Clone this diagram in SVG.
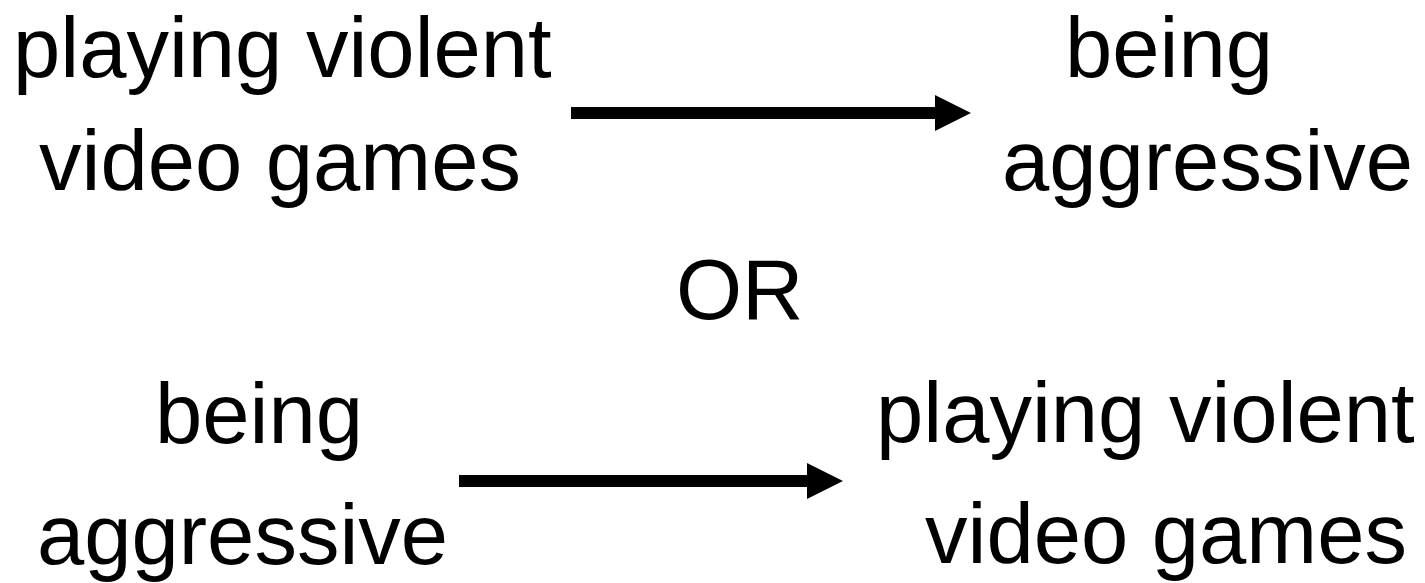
<svg xmlns="http://www.w3.org/2000/svg" width="1425" height="583" viewBox="0 0 1425 583">
  <style>
    .t { font-family: "Liberation Sans", Arial, sans-serif; font-size: 85px; fill: #000; }
    .c { stroke: #000; stroke-width: 12; fill: none; }
  </style>
  <defs>
    <marker id="ah" markerUnits="userSpaceOnUse" markerWidth="37" markerHeight="37" refX="0" refY="18" orient="auto" viewBox="0 0 37 36">
      <path d="M0,0 L36,18 L0,36 Z" fill="#000"/>
    </marker>
  </defs>
  <rect width="1425" height="583" fill="#fff"/>
  <g id="connectors">
    <line class="c" x1="571" y1="113" x2="935" y2="113" marker-end="url(#ah)"/>
    <line class="c" x1="459" y1="481" x2="807" y2="481" marker-end="url(#ah)"/>
  </g>
  <g id="node-top-left">
    <text class="t" x="13" y="77">playing violent</text>
    <text class="t" x="39" y="190">video games</text>
  </g>
  <g id="node-top-right">
    <text class="t" x="1065" y="77">being</text>
    <text class="t" x="1002" y="190">aggressive</text>
  </g>
  <g id="node-or">
    <text class="t" x="676" y="319">OR</text>
  </g>
  <g id="node-bottom-left">
    <text class="t" x="155" y="443">being</text>
    <text class="t" x="37" y="564">aggressive</text>
  </g>
  <g id="node-bottom-right">
    <text class="t" x="876" y="442">playing violent</text>
    <text class="t" x="925" y="563">video games</text>
  </g>
</svg>
